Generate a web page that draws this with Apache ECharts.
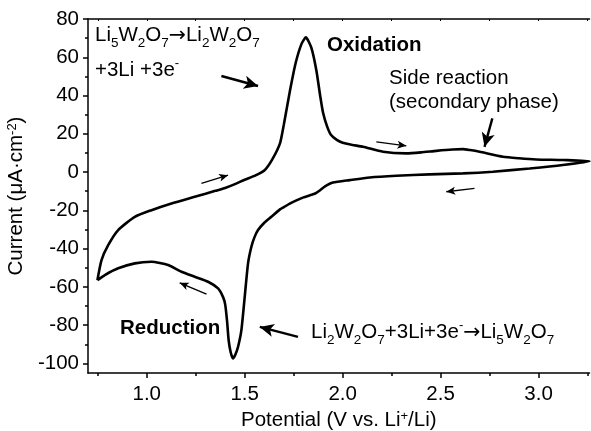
<!DOCTYPE html>
<html><head><meta charset="utf-8">
<script src="https://cdn.jsdelivr.net/npm/echarts@6/dist/echarts.min.js"></script>
<style>html,body{margin:0;padding:0;background:#fff}#c{width:591px;height:431px}</style>
</head><body><div id="c"></div>
<script>
// ---- data ----
const upperPotential = [0.748,0.769,0.803,0.854,0.939,1.024,1.126,1.245,1.30,1.35,1.40,1.45,1.50,1.55,1.60,1.64,1.68,1.70,1.73,1.76,1.79,1.812,1.84,1.866,1.885,1.90,1.92,1.94,1.97,2.0,2.05,2.104,2.206,2.325,2.40,2.478,2.56,2.614,2.65,2.699,2.818,2.90,2.988,3.124,3.26];
const upperCurrent   = [-56.5,-46,-38.2,-30.3,-23.4,-19.9,-16.4,-12.9,-11.3,-9.8,-8.3,-6.3,-4.0,-2.0,0.8,6.5,15,25,42,57,67,70.4,65,53,40,31,24,19.5,16.8,15.3,14.2,13.2,10.6,9.8,10.3,11.1,11.8,12.0,11.5,10.6,8.0,7.2,6.6,6.3,5.7];
const lowerPotential = [3.124,2.954,2.767,2.614,2.444,2.274,2.138,2.036,1.95,1.91,1.883,1.86,1.83,1.80,1.764,1.73,1.70,1.68,1.636,1.60,1.568,1.55,1.534,1.517,1.50,1.483,1.466,1.452,1.44,1.428,1.418,1.41,1.40,1.389,1.364,1.313,1.245,1.177,1.109,1.024,0.939,0.854,0.786,0.748];
const lowerCurrent   = [3.7,1.9,0.2,-0.7,-1.2,-1.9,-2.8,-4.2,-5.5,-7.5,-9.6,-11.2,-12.2,-13.2,-14.8,-16.5,-18.3,-19.5,-23.4,-26.5,-30.3,-34,-39,-47.7,-65.2,-82.6,-91.3,-95.5,-97.4,-94,-88,-78,-69,-65.2,-60.8,-57.3,-54.7,-52.1,-48.6,-46.9,-47.7,-50.3,-53.8,-56.5];
const xMajorTicks = [1.0,1.5,2.0,2.5,3.0];
const xMinorTicks = [0.75,1.25,1.75,2.25,2.75,3.25];
const yMajorTicks = [-100,-80,-60,-40,-20,0,20,40,60,80];
const yMinorTicks = [-90,-70,-50,-30,-10,10,30,50,70];
// arrows: [fromV, fromI, toV, toI, kind]
const arrowList = [
  [1.381,50.2,1.568,45.0,'big'],
  [1.279,-5.9,1.415,-1.6,'small'],
  [2.172,15.8,2.325,13.7,'small'],
  [2.764,28.1,2.724,13.2,'big'],
  [2.673,-8.5,2.529,-10.3,'small'],
  [1.305,-63.8,1.168,-57.9,'small'],
  [1.772,-86.1,1.577,-80.9,'big']
];

const curve = [];
upperPotential.forEach((v,i)=>curve.push([v, upperCurrent[i]]));
lowerPotential.forEach((v,i)=>curve.push([v, lowerCurrent[i]]));

const FONT = 'Liberation Sans, Arial, sans-serif';
const FS = 20.5;
const richStyles = {
  sub: {fontSize: 13.5, fontFamily: FONT, fill: '#000', verticalAlign: 'top', lineHeight: 13, padding: [14,0,0,0]},
  sup: {fontSize: 13, fontFamily: FONT, fill: '#000', verticalAlign: 'top', lineHeight: 13, padding: [0,0,0,0]},
  arr: {fontSize: FS, fontFamily: 'DejaVu Sans, sans-serif', fill: '#000', lineHeight: 27}
};

function txt(left, top, text, bold) {
  return {type:'text', left: left, top: top, z: 100, silent: true,
    style: {text: text, fontSize: FS, fontFamily: FONT, fontWeight: bold ? 'bold' : 'normal',
      fill: '#000', lineHeight: 27, rich: richStyles}};
}

const supRich = {sup:{fontSize:13, fontFamily:FONT, color:'#000', verticalAlign:'top', lineHeight:13}};
const axisLineStyle = {color:'#000', width:1.5};
const chart = echarts.init(document.getElementById('c'), null, {renderer:'canvas'});
chart.setOption({
  animation: false,
  backgroundColor: '#fff',
  grid: {left: 88, right: 1.5, top: 19, bottom: 58, containLabel: false, outerBoundsMode: 'none'},
  xAxis: [
    {type:'value', min:0.70, max:3.26, position:'bottom',
     axisLine:{show:true, onZero:false, lineStyle:axisLineStyle},
     axisTick:{show:true, inside:false, length:5, customValues: xMajorTicks, lineStyle:axisLineStyle},
     axisLabel:{show:true, customValues: xMajorTicks, formatter: v=>Number(v).toFixed(1), fontSize:FS, fontFamily:FONT, color:'#000', margin:11},
     splitLine:{show:false},
     name:'Potential (V vs. Li{sup|+}/Li)', nameLocation:'middle', nameGap:35,
     nameTextStyle:{fontSize:FS, fontFamily:FONT, color:'#000', rich:supRich}},
    {type:'value', min:0.70, max:3.26, position:'bottom',
     axisLine:{show:false, onZero:false},
     axisTick:{show:true, inside:false, length:3, customValues: xMinorTicks, lineStyle:axisLineStyle},
     axisLabel:{show:false}, splitLine:{show:false}},
    {type:'value', min:0.70, max:3.26, position:'top',
     axisLine:{show:true, onZero:false, lineStyle:axisLineStyle},
     axisTick:{show:true, inside:true, length:2, customValues: xMajorTicks.concat(xMinorTicks), lineStyle:{color:'#000', width:1}},
     axisLabel:{show:false}, splitLine:{show:false}}
  ],
  yAxis: [
    {type:'value', min:-105, max:80, position:'left',
     axisLine:{show:true, onZero:false, lineStyle:axisLineStyle},
     axisTick:{show:true, inside:false, length:5, customValues: yMajorTicks, lineStyle:axisLineStyle},
     axisLabel:{show:true, customValues: yMajorTicks, fontSize:FS, fontFamily:FONT, color:'#000', margin:9},
     splitLine:{show:false},
     name:'Current (\u03bcA\u00b7cm{sup|-2})', nameLocation:'middle', nameGap:58, nameRotate:90,
     nameTextStyle:{fontSize:FS, fontFamily:FONT, color:'#000', rich:supRich}},
    {type:'value', min:-105, max:80, position:'left',
     axisLine:{show:false, onZero:false},
     axisTick:{show:true, inside:false, length:3, customValues: yMinorTicks, lineStyle:axisLineStyle},
     axisLabel:{show:false}, splitLine:{show:false}}
  ],
  series: [{
    type:'line', xAxisIndex:0, yAxisIndex:0, data: curve, showSymbol:false, symbol:'none',
    smooth: 0.2, clip:false,
    lineStyle:{color:'#000', width:2.6},
    markLine: {
      silent:true, animation:false, label:{show:false}, symbol:['none','arrow'],
      data: arrowList.map(a => {
        const big = a[4] === 'big';
        const ls = {color:'#000', width: big ? 2.4 : 1.4, type:'solid'};
        return [
          {coord:[a[0],a[1]], symbol:'none', lineStyle: ls},
          {coord:[a[2],a[3]], symbol:'arrow', symbolSize: big ? [10,14] : [6,9], lineStyle: ls, itemStyle:{color:'#000'}}
        ];
      })
    }
  }],
  graphic: [
    txt(95, 22, 'Li{sub|5}W{sub|2}O{sub|7}{arr|\u2192}Li{sub|2}W{sub|2}O{sub|7}'),
    txt(95, 57, '+3Li +3e{sup|-}'),
    txt(327, 32, 'Oxidation', true),
    txt(389, 65, 'Side reaction'),
    txt(389, 89, '(secondary phase)'),
    txt(120, 315, 'Reduction', true),
    txt(311, 319, 'Li{sub|2}W{sub|2}O{sub|7}+3Li+3e{sup|-}{arr|\u2192}Li{sub|5}W{sub|2}O{sub|7}')
  ]
});
</script>
</body></html>
